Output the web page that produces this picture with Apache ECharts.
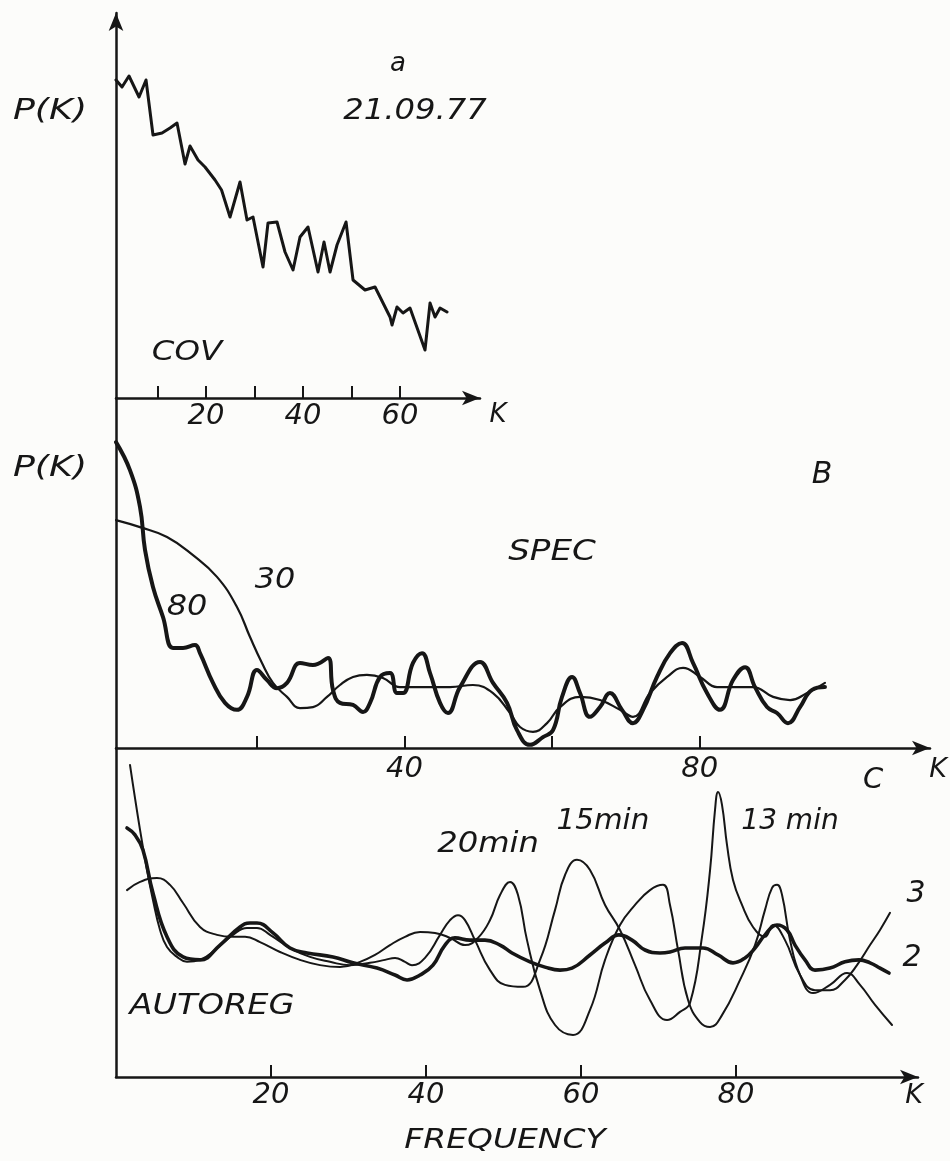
<!DOCTYPE html>
<html>
<head>
<meta charset="utf-8">
<script src="https://cdn.jsdelivr.net/npm/echarts@6/dist/echarts.min.js"></script>
<style>
html,body{margin:0;padding:0;background:#fcfcfa;}
#chart{width:950px;height:1161px;}
</style>
</head>
<body>
<div id="chart"></div>
<script>
// ---- Panel a: covariance method (21.09.77) ----
const covK = [1.44,2.68,4.12,6.19,7.63,9.07,10.93,12.58,14.02,15.67,16.70,18.35,19.79,21.86,23.2,24.95,27.01,28.45,29.69,31.75,32.78,34.64,36.29,37.94,39.38,41.03,43.09,44.33,45.57,47.01,48.87,50.31,52.78,54.85,57.94,58.35,59.38,60.62,62.06,65.15,66.19,67.22,68.25,69.69];
const covP = [79.5,77.75,80.5,75.25,79.5,65.75,66.25,67.5,68.75,58.5,63,59.5,57.75,54.5,52,45.25,54,44.5,45.25,32.75,43.75,44,36.5,32,40.25,42.75,31.5,39,31.5,38.25,44,29.5,27,27.75,20.25,18.25,22.75,21.25,22.5,12,23.75,20.25,22.5,21.5];

// ---- Panel B: SPEC, lag window 80 (thick) ----
const spec80K = [0.91,2.80,4.16,4.84,5.92,7.28,8.63,9.99,11.61,12.29,14.05,15.68,17.30,18.66,20.01,21.37,22.72,24.08,25.84,27.60,29.63,30.31,31.26,33.02,34.38,35.33,36.68,38.04,38.98,39.80,41.15,42.37,43.46,44.81,45.89,47.52,50.23,51.99,53.89,55.24,57.00,58.76,60.12,61.34,62.70,63.78,65.13,66.49,67.84,69.47,70.96,72.32,74.21,75.98,77.60,79.09,80.99,82.75,84.51,86.14,87.49,89.12,90.47,91.96,93.59,95.22,96.97];
const spec80P = [87.4,79.4,68.9,56.6,46,37.4,28.6,28.6,29.4,27.1,18.6,12.9,10.9,14.6,22.3,19.4,17.1,18.6,24.3,23.7,25.7,16.6,12.9,12.3,10.3,12.9,20.3,21.4,15.7,15.7,24.3,27.1,21.4,12.9,10,17.4,24.6,18.6,12.9,5.1,0.9,3.1,5.1,14.6,20.3,15.7,8.9,11.7,15.7,10.9,7.1,10.9,20.3,27.1,30,24.3,15.7,10.9,19.4,23.1,17.4,11.7,10,7.1,11.7,16.6,17.4];

// ---- Panel B: SPEC, lag window 30 (thin) ----
const spec30K = [0.91,4.16,7.82,11.34,14.59,17.30,19.07,20.69,22.18,24.08,25.84,27.60,29.50,31.26,33.02,34.91,37.08,39.39,42.10,46.17,49.28,51.99,54.30,55.65,57.41,59.31,61.07,63.78,66.49,69.20,70.96,73.27,75.58,77.74,80.05,82.35,84.52,87.23,89.94,92.24,94.55,96.97];
const spec30P = [65.1,63.1,60.3,55.1,48.9,40.3,31.7,24.3,18.6,14.6,11.4,11.7,14.6,18,20.3,20.9,20,17.4,17.4,17.4,18,15.7,10,6,4.6,7.1,11.7,14.6,13.7,10.9,8.9,15.7,20.3,22.9,20.3,17.4,17.4,17.4,14.6,13.7,15.7,18.6];

// ---- Panel C: AUTOREG, curve 2 (thick) ----
const ar2K = [1.42,2.45,3.48,4.77,6.58,8.65,10.84,13.42,16.0,17.29,18.19,20.26,22.45,24.65,28.0,30.58,33.68,36.0,37.55,39.23,40.90,42.45,43.74,45.68,47.61,49.55,51.10,53.42,55.35,57.29,58.84,61.16,63.10,64.90,66.58,68.26,70.19,71.48,73.42,75.74,77.68,79.61,81.16,82.45,83.74,85.29,86.58,87.61,88.90,90.19,92.13,94.06,95.87,97.29,98.58,99.74];
const ar2P = [75.7,73.6,69.0,55.9,42.6,36.5,35.6,40.1,45.6,46.8,46.8,43.8,39.2,37.7,36.5,34.7,33.1,31.0,29.5,31.0,34.0,40.1,42.3,41.6,41.6,40.1,37.7,35.0,33.4,32.5,33.1,37.1,40.7,43.2,41.6,38.6,37.7,38.0,39.2,39.2,37.1,34.7,36.2,39.2,43.2,46.2,44.7,40.1,35.6,32.5,33.1,35.0,35.6,34.7,33.1,31.6];

// ---- Panel C: AUTOREG, curve 3 (thin, 15 and 13 min peaks) ----
const ar3K = [1.81,3.10,4.0,4.77,5.68,6.58,7.87,9.16,10.84,12.77,15.10,16.90,18.19,19.87,22.45,25.03,27.61,30.19,32.77,34.71,36.0,37.29,38.19,39.87,41.81,43.10,44.13,45.03,46.32,48.26,50.19,52.52,54.71,56.65,57.94,59.48,61.16,63.10,65.03,66.97,68.90,71.10,72.77,74.06,75.61,76.65,77.29,77.68,78.19,78.84,79.61,80.77,82.19,83.74,84.77,86.32,88.26,90.19,92.13,94.06,95.61,97.29,98.58,99.87];
const ar3P = [94.8,75.1,62.9,53.8,44.7,39.5,36.5,35.0,35.6,38.6,43.2,45.3,45.3,43.2,39.2,36.5,35.0,34.0,34.7,35.6,36.2,35.0,34.0,36.2,43.2,47.7,49.2,47.7,41.6,32.5,28.0,27.4,35.6,50.8,61.4,66.0,62.9,52.3,44.7,34.0,23.4,17.3,19.8,22.5,42.6,62.9,81.2,86.6,82.7,70.5,59.9,52.3,45.6,42.6,46.2,41.6,31.0,26.4,26.4,29.5,34.0,40.1,44.7,49.9];

// ---- Panel C: AUTOREG, thin curve with 20 min peak ----
const arLK = [1.42,3.10,5.29,6.97,8.65,10.84,13.03,15.10,16.65,18.58,21.16,23.74,26.32,28.90,31.48,33.42,35.35,37.29,39.23,41.16,43.10,45.03,46.71,48.26,49.55,50.84,51.87,53.03,54.71,56.65,58.97,61.16,63.10,65.03,66.97,68.90,70.58,71.48,72.52,73.81,75.35,76.65,78.19,80.52,82.45,83.74,84.65,85.29,85.94,86.97,88.26,89.94,92.13,94.32,96.0,97.94,100.13];
const arLP = [56.8,59.3,60.5,58.4,52.9,45.6,43.2,42.6,42.6,41.0,38.0,35.6,34.0,33.4,35.0,37.1,40.1,42.6,44.1,43.8,42.3,40.1,42.3,47.7,55.3,59.3,55.3,41.6,26.4,15.8,12.8,20.4,35.6,46.2,52.3,56.8,58.4,52.3,38.6,23.4,16.7,15.2,18.8,29.5,40.1,50.8,57.5,58.4,55.3,41.6,31.0,25.5,28.0,31.6,28.0,21.9,15.8];

// ---- tick values ----
const ticksA = [10,20,30,40,50,60];
const labelsA = [20,40,60];
const ticksB = [20,40,60,80];
const labelsB = [40,80];
const ticksC = [20,40,60,80];
const labelsC = [20,40,60,80];

const zip = (k, p) => k.map((v, i) => [v, p[i]]);

const INK = '#161616';
const FONT = 'DejaVu Sans';

function xAx(gi, min, max, ticks, labels, margin) {
  return {
    type: 'value', gridIndex: gi, min: min, max: max,
    axisLine: {show: true, onZero: false, symbol: ['none', 'arrow'], symbolSize: [11, 18],
      lineStyle: {color: INK, width: 2.5}},
    axisTick: {show: true, inside: true, length: 12, customValues: ticks,
      lineStyle: {color: INK, width: 2}},
    axisLabel: {show: true, customValues: labels, margin: margin, color: INK,
      fontFamily: FONT, fontStyle: 'italic', fontSize: 29},
    splitLine: {show: false}
  };
}
function yAx(gi, max, arrow) {
  return {
    type: 'value', gridIndex: gi, min: 0, max: max,
    axisLine: {show: true, symbol: arrow ? ['none', 'arrow'] : 'none', symbolSize: [11, 18],
      lineStyle: {color: INK, width: 2.5}},
    axisTick: {show: false}, axisLabel: {show: false}, splitLine: {show: false}
  };
}
function line(xi, data, w) {
  return {
    type: 'line', xAxisIndex: xi, yAxisIndex: xi, data: data, showSymbol: false,
    smooth: xi === 0 ? false : 0.45, animation: false, clip: false,
    lineStyle: {color: INK, width: w, cap: 'round', join: 'round'}
  };
}
function txt(text, x, y, size, sx) {
  return {
    type: 'text', x: x, y: y, scaleX: sx || 1,
    style: {text: text, fill: INK, font: 'italic ' + size + 'px "' + FONT + '"',
      textAlign: 'center', textVerticalAlign: 'middle'}
  };
}

const chart = echarts.init(document.getElementById('chart'), null, {renderer: 'canvas'});
chart.setOption({
  backgroundColor: '#fcfcfa',
  animation: false,
  grid: [
    {left: 116, top: 13, width: 364, height: 385},
    {left: 116, top: 398, width: 814, height: 350},
    {left: 116, top: 748, width: 802, height: 329}
  ],
  xAxis: [
    xAx(0, 1.44, 76.49, ticksA, labelsA, 4),
    xAx(1, 0.91, 111.2, ticksB, labelsB, 7),
    xAx(2, 0, 103.48, ticksC, labelsC, 4)
  ],
  yAxis: [yAx(0, 96.25, true), yAx(1, 100, false), yAx(2, 100, false)],
  series: [
    line(0, zip(covK, covP), 3),
    line(1, zip(spec30K, spec30P), 2.2),
    line(1, zip(spec80K, spec80P), 4),
    line(2, zip(arLK, arLP), 2),
    line(2, zip(ar3K, ar3P), 2),
    line(2, zip(ar2K, ar2P), 3.6)
  ],
  graphic: [
    txt('P(K)', 50, 112, 28, 1.3),
    txt('a', 398, 64, 26, 1),
    txt('21.09.77', 415, 112, 28, 1.15),
    txt('COV', 187, 353, 27, 1.2),
    txt('K', 498, 415, 26, 1),
    txt('P(K)', 50, 469, 28, 1.3),
    txt('B', 822, 475, 30, 1),
    txt('SPEC', 552, 553, 28, 1.22),
    txt('30', 275, 580, 29, 1.1),
    txt('80', 187, 607, 29, 1.1),
    txt('K', 938, 770, 27, 1),
    txt('C', 873, 780, 29, 1),
    txt('20min', 488, 845, 28, 1.15),
    txt('15min', 603, 822, 28, 1.05),
    txt('13 min', 790, 822, 28, 1),
    txt('3', 916, 894, 30, 1),
    txt('2', 912, 958, 30, 1),
    txt('AUTOREG', 212, 1007, 28, 1.2),
    txt('K', 914, 1096, 27, 1),
    txt('FREQUENCY', 505, 1141, 27, 1.22)
  ]
});
</script>
</body>
</html>
